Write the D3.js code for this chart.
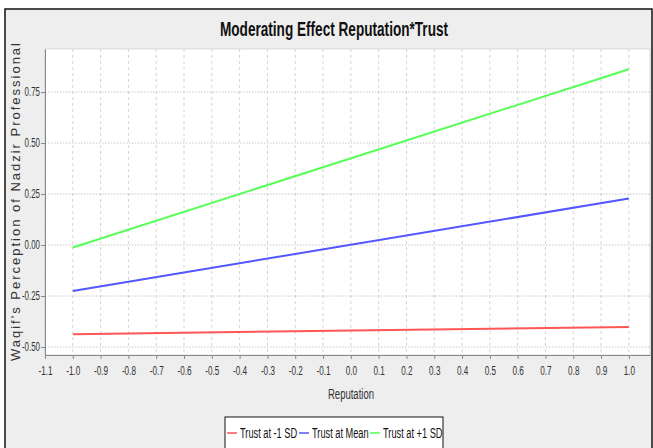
<!DOCTYPE html>
<html>
<head>
<meta charset="utf-8">
<script src="https://cdn.jsdelivr.net/npm/d3@7"></script>
<style>
  body { margin: 0; background: #fff; }
  svg { display: block; }
</style>
</head>
<body>
<div id="chart"></div>
<script>
document.addEventListener("DOMContentLoaded", function () {
    const width = 653;
    const height = 448;
    const margin = { top: 49, right: 3, bottom: 93, left: 45 };
    const font = "Liberation Sans, Arial, sans-serif";

    // data
    const reputation = [-1.0, 1.0];
    const seriesNames = ["Trust at -1 SD", "Trust at Mean", "Trust at +1 SD"];
    const lowTrust = [-0.437, -0.402];
    const meanTrust = [-0.225, 0.228];
    const highTrust = [-0.012, 0.862];
    const xTicks = [-1.1, -1.0, -0.9, -0.8, -0.7, -0.6, -0.5, -0.4, -0.3, -0.2, -0.1,
        0.0, 0.1, 0.2, 0.3, 0.4, 0.5, 0.6, 0.7, 0.8, 0.9, 1.0];
    const yTicks = [-0.50, -0.25, 0.00, 0.25, 0.50, 0.75];
    const colors = ["#ff5555", "#5555ff", "#55ff55"];

    const series = [lowTrust, meanTrust, highTrust].map((vals, i) => ({
        name: seriesNames[i],
        color: colors[i],
        points: reputation.map((r, j) => ({ x: r, y: vals[j] }))
    }));

    const x = d3.scaleLinear()
        .domain([-1.1, 1.076])
        .range([margin.left, width - margin.right]);

    const y = d3.scaleLinear()
        .domain([-0.539, 0.961])
        .range([height - margin.bottom, margin.top]);

    const svg = d3.select("#chart")
        .append("svg")
        .attr("width", width)
        .attr("height", height)
        .attr("font-family", font);

    // narrow text: squeeze horizontally around its anchor point
    function narrowText(sel, ax, ay, s, size, str) {
        return sel.append("text")
            .attr("transform", `translate(${ax},${ay}) scale(${s},1)`)
            .attr("font-size", size)
            .text(str);
    }

    // outer frame
    svg.append("rect")
        .attr("x", 5).attr("y", 9)
        .attr("width", 647).attr("height", 450)
        .attr("fill", "#eeeeee")
        .attr("stroke", "#111")
        .attr("stroke-width", 1.5);

    narrowText(svg, 334, 36, 0.68, 20, "Moderating Effect Reputation*Trust")
        .attr("text-anchor", "middle")
        .attr("font-weight", "bold")
        .attr("fill", "#111");

    // plot background
    svg.append("rect")
        .attr("x", margin.left).attr("y", margin.top)
        .attr("width", width - margin.right - margin.left)
        .attr("height", height - margin.bottom - margin.top)
        .attr("fill", "#fff")
        .attr("stroke", "#bbb")
        .attr("stroke-width", 0.5);

    // grid
    svg.append("g")
        .selectAll("line")
        .data(xTicks)
        .join("line")
        .attr("x1", d => x(d)).attr("x2", d => x(d))
        .attr("y1", margin.top).attr("y2", height - margin.bottom)
        .attr("stroke", "#d4d4d4")
        .attr("stroke-dasharray", "3,3");

    svg.append("g")
        .selectAll("line")
        .data(yTicks)
        .join("line")
        .attr("x1", margin.left).attr("x2", width - margin.right)
        .attr("y1", d => y(d)).attr("y2", d => y(d))
        .attr("stroke", "#c8c8c8")
        .attr("stroke-dasharray", "1.5,1.5");

    const hyphen = f => d => f(d).replace("\u2212", "-");

    const gx = svg.append("g")
        .attr("transform", `translate(0,${height - margin.bottom})`)
        .call(d3.axisBottom(x).tickValues(xTicks).tickFormat(hyphen(d3.format(".1f")))
            .tickSizeInner(4).tickSizeOuter(0).tickPadding(7));
    gx.selectAll("text")
        .attr("transform", "scale(0.68,1)");

    const gy = svg.append("g")
        .attr("transform", `translate(${margin.left},0)`)
        .call(d3.axisLeft(y).tickValues(yTicks).tickFormat(hyphen(d3.format(".2f")))
            .tickSizeInner(4).tickSizeOuter(0).tickPadding(1));
    gy.selectAll("text")
        .attr("x", 0)
        .attr("transform", "translate(-5,0) scale(0.66,1)");

    [gx, gy].forEach(g => {
        g.attr("font-family", font);
        g.selectAll("text").attr("font-size", 12).attr("fill", "#333");
        g.selectAll("line").attr("stroke", "#888");
        g.select(".domain").attr("stroke", "#888");
    });

    // lines
    const line = d3.line().x(d => x(d.x)).y(d => y(d.y));
    svg.append("g")
        .selectAll("path")
        .data(series)
        .join("path")
        .attr("d", d => line(d.points))
        .attr("fill", "none")
        .attr("stroke", d => d.color)
        .attr("stroke-width", 2);

    // axis titles
    narrowText(svg, 351, 399, 0.68, 14, "Reputation")
        .attr("text-anchor", "middle")
        .attr("fill", "#333");

    svg.append("text")
        .attr("transform", `translate(20,${(margin.top + height - margin.bottom) / 2}) rotate(-90)`)
        .attr("text-anchor", "middle")
        .attr("font-size", 13)
        .attr("fill", "#333")
        .attr("textLength", 318)
        .attr("lengthAdjust", "spacing")
        .text("Waqif's Perception of Nadzir Professional");

    // legend
    const legend = svg.append("g");
    legend.append("rect")
        .attr("x", 225).attr("y", 417)
        .attr("width", 218).attr("height", 40)
        .attr("fill", "#fff")
        .attr("stroke", "#111");

    const legendX = [227, 299, 370];
    series.forEach((d, i) => {
        const item = legend.append("g")
            .attr("transform", `translate(${legendX[i]},433)`);
        item.append("line")
            .attr("x1", 0).attr("x2", 10)
            .attr("y1", 0).attr("y2", 0)
            .attr("stroke", d.color)
            .attr("stroke-width", 1.5);
        narrowText(item, 13, 5, 0.66, 14, d.name)
            .attr("fill", "#111");
    });
});
</script>
</body>
</html>
